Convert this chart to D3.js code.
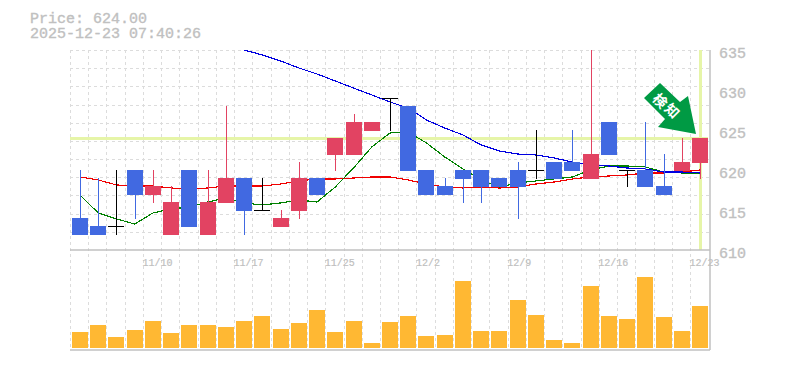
<!DOCTYPE html>
<html>
<head>
<meta charset="utf-8">
<script src="https://cdnjs.cloudflare.com/ajax/libs/d3/7.8.5/d3.min.js"></script>
<style>
body { margin: 0; background: #fff; }
svg { display: block; }
text { font-family: "Liberation Mono", monospace; fill: #c0c0c0; }
.mono { stroke: #c0c0c0; stroke-width: 0.35; }
.small { stroke: #c0c0c0; stroke-width: 0.2; }
</style>
</head>
<body>
<svg class="chart" width="785" height="370"></svg>
<script>
var dates = ["11/4","11/5","11/6","11/7","11/10","11/11","11/12","11/13","11/14","11/17","11/18","11/19","11/20","11/21","11/25","11/26","11/27","11/28","12/1","12/2","12/3","12/4","12/5","12/8","12/9","12/10","12/11","12/12","12/15","12/16","12/17","12/18","12/19","12/22","12/23"];
var open  = [614,613,613,620,617,612,620,612,616,619,615,613,615,619,622,622,625,629,628,620,618,620,620,619,620,620,621,621,619,626,620,620,618,620,621];
var close = [612,612,613,617,618,616,613,616,619,615,615,614,619,617,624,626,626,629,620,617,617,619,618,618,618,620,619,620,622,622,620,618,617,621,624];
var high  = [620,619,620,620,620,618,620,620,628,619,619,615,621,619,624,627,626,629,628,620,619,620,620,619,621,625,621,625,635,626,620,626,622,624,624];
var low   = [612,612,612,614,616,612,613,612,616,612,615,613,614,617,620,622,625,625,620,617,617,616,616,618,614,619,619,620,619,622,618,618,617,620,619];
var volume = [16,23,11,18,27,15,23,23,21,27,32,19,25,38,16,27,5,26,32,12,13,67,17,17,48,33,8,5,62,32,29,71,31,17,42];
var maRed = [619.13,618.75,618.13,618,618,617.75,617.63,617.75,618,618,618,618.25,618.63,618.88,618.88,619,619.13,619.13,618.75,618.25,617.88,617.75,617.88,617.75,617.88,618.25,618.5,618.88,619.13,619.25,619.38,619.63,619.63,619.75,620];
var maGreen = [616.88,614.63,613.88,613.25,614.63,615.13,615.38,616,616.5,615.88,615.63,615.88,616.25,616,617.88,620.25,622.88,624.63,624.75,623.38,621.63,620.13,618.75,617.88,618.38,618.63,618.88,619.13,620,620.5,620.5,620.38,619.75,619.63,619.63];
var maBlue = [null,null,null,null,null,null,null,null,635.75,635,634.38,633.63,632.75,632,631.13,630.25,629.38,628.5,627.75,626.25,625.25,624.38,623.13,622.38,622,621.88,621.5,621,620.63,620.5,620.25,620.13,619.75,619.75,619.63];
var priceTicks = [610,615,620,625,630,635];
var dateTicks = ["11/10","11/17","11/25","12/2","12/9","12/16","12/23"];
var lastPrice = 624;

var svg = d3.select("svg.chart");
var left = 70, right = 710, top_ = 50, mid = 250, bottom = 350, barBase = 348;

var x = d3.scalePoint().domain(dates).range([80, 700]);
var y = d3.scaleLinear().domain([610, 635]).range([mid, top_]);
var yVol = d3.scaleLinear().domain([0, 100]).range([barBase, barBase - 100]);

svg.append("defs").append("clipPath").attr("id", "plot")
    .append("rect").attr("x", left).attr("y", top_).attr("width", right - left).attr("height", mid - top_);

// grid
var grid = svg.append("g").attr("stroke", "#dcdcdc").attr("stroke-dasharray", "3 3");
grid.selectAll(".h").data(d3.range(11)).enter().append("line")
    .attr("x1", left).attr("x2", right)
    .attr("y1", function(d) { return Math.round(top_ + d * 18.18) + 0.5; })
    .attr("y2", function(d) { return Math.round(top_ + d * 18.18) + 0.5; });
grid.selectAll(".v").data(dates).enter().append("line")
    .attr("x1", function(d) { return Math.round(x(d) - 10) + 0.5; })
    .attr("x2", function(d) { return Math.round(x(d) - 10) + 0.5; })
    .attr("y1", top_).attr("y2", bottom);

// current price and date markers
var lastX = x(dates[dates.length - 1]);
svg.append("line").attr("x1", left).attr("x2", lastX + 8)
    .attr("y1", y(lastPrice) + 0.5).attr("y2", y(lastPrice) + 0.5)
    .attr("stroke", "#e6f5a8").attr("stroke-width", 3);
svg.append("line").attr("x1", lastX + 0.5).attr("x2", lastX + 0.5)
    .attr("y1", top_).attr("y2", mid)
    .attr("stroke", "#e6f5a8").attr("stroke-width", 3);

// frame
var frame = svg.append("g").attr("stroke", "#c0c0c0").attr("stroke-width", 1.5);
frame.append("line").attr("x1", left).attr("x2", right).attr("y1", mid).attr("y2", mid);
frame.append("line").attr("x1", left).attr("x2", right).attr("y1", bottom).attr("y2", bottom);
frame.append("line").attr("x1", right).attr("x2", right).attr("y1", top_).attr("y2", bottom);

// moving averages
var line = d3.line()
    .defined(function(d) { return d != null; })
    .x(function(d, i) { return x(dates[i]); })
    .y(function(d) { return y(d); });
[[maRed, "#f00000"], [maGreen, "#008000"], [maBlue, "#0000e0"]].forEach(function(s) {
    svg.append("path").datum(s[0])
        .attr("clip-path", "url(#plot)")
        .attr("fill", "none")
        .attr("stroke", s[1])
        .attr("stroke-width", 1.15)
        .attr("shape-rendering", "crispEdges")
        .attr("d", line);
});

// candles
var color = function(i) {
    if (close[i] > open[i]) return "#e24362";
    if (close[i] < open[i]) return "#4169e1";
    return "#000";
};
svg.selectAll(".wick").data(dates).enter().append("rect")
    .attr("class", "wick")
    .attr("x", function(d) { return Math.round(x(d)); })
    .attr("width", 1)
    .attr("y", function(d, i) { return y(high[i]); })
    .attr("height", function(d, i) { return y(low[i]) - y(high[i]) + 1; })
    .attr("fill", function(d, i) { return color(i); });
svg.selectAll(".body").data(dates).enter().append("rect")
    .attr("class", "body")
    .attr("x", function(d) { return Math.round(x(d) - 8); })
    .attr("width", 16)
    .attr("y", function(d, i) { return y(Math.max(open[i], close[i])); })
    .attr("height", function(d, i) { return Math.abs(y(open[i]) - y(close[i])) + 1; })
    .attr("fill", function(d, i) { return color(i); });

// volume
svg.selectAll(".vol").data(dates).enter().append("rect")
    .attr("class", "vol")
    .attr("x", function(d) { return Math.round(x(d) - 8); })
    .attr("width", 16)
    .attr("y", function(d, i) { return yVol(volume[i]); })
    .attr("height", function(d, i) { return barBase - yVol(volume[i]); })
    .attr("fill", "#ffb833");

// axes
var yAxis = svg.append("g").attr("transform", "translate(" + right + ",0)")
    .call(d3.axisRight(y).tickValues(priceTicks).tickSize(0).tickPadding(9));
yAxis.select(".domain").remove();
yAxis.selectAll("text").attr("class", "mono").attr("dy", 0).attr("transform", "translate(0,7)")
    .style("font-size", "15px").style("font-family", "'Liberation Mono', monospace").attr("fill", "#c0c0c0");

var xAxis = svg.append("g").attr("transform", "translate(0," + mid + ")")
    .call(d3.axisBottom(x).tickValues(dateTicks).tickSize(0).tickPadding(0));
xAxis.select(".domain").remove();
xAxis.selectAll("text").attr("class", "small").attr("text-anchor", "start").attr("dy", 0)
    .attr("transform", "translate(-11,16)")
    .style("font-size", "10px").style("font-family", "'Liberation Mono', monospace").attr("fill", "#c0c0c0");

// title
svg.append("text").attr("class", "mono").attr("x", 30).attr("y", 23).style("font-size", "15px").text("Price: " + lastPrice.toFixed(2));
svg.append("text").attr("class", "mono").attr("x", 30).attr("y", 38).style("font-size", "15px").text("2025-12-23 07:40:26");

// detection arrow, offsets from the last candle top
var tipX = lastX - 4, tipY = y(lastPrice) - 4;
var arrow = [[-36,-51],[-52,-36],[-31,-15],[-38,-7],[0,0],[-8,-38],[-16,-32]];
svg.append("polygon")
    .attr("points", arrow.map(function(p) { return (tipX + p[0]) + "," + (tipY + p[1]); }).join(" "))
    .attr("fill", "#009a44");
[["検", -36, -33], ["知", -24, -23]].forEach(function(c) {
    svg.append("text")
        .attr("transform", "translate(" + (tipX + c[1]) + "," + (tipY + c[2]) + ") rotate(45)")
        .attr("text-anchor", "middle")
        .attr("dy", "0.36em")
        .style("font-family", "'Noto Sans CJK JP'")
        .style("font-weight", "bold")
        .style("font-size", "14px")
        .style("fill", "#fff")
        .text(c[0]);
});
</script>
</body>
</html>
